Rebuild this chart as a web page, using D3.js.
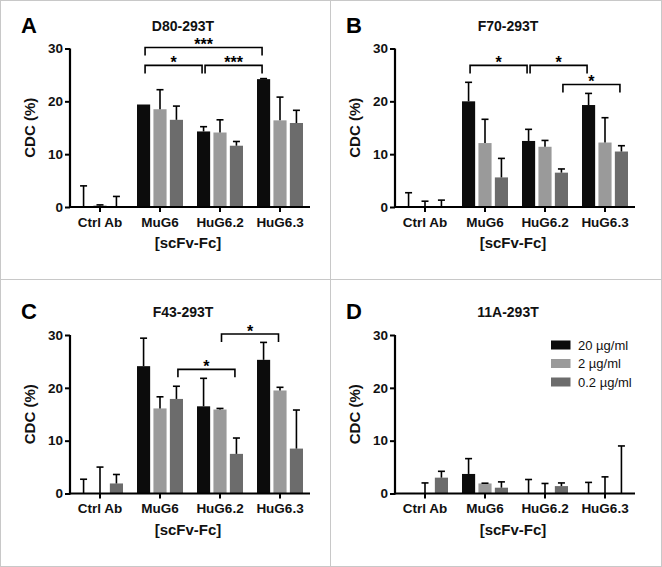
<!DOCTYPE html>
<html>
<head>
<meta charset="utf-8">
<script src="https://cdn.jsdelivr.net/npm/d3@7"></script>
<style>
  body { margin: 0; background: #fff; }
  svg { display: block; font-family: Arial, "Liberation Sans", Helvetica, sans-serif; }
</style>
</head>
<body>
<svg id="chart"></svg>
<script>
let categories = ['Ctrl Ab', 'MuG6', 'HuG6.2', 'HuG6.3']
let doses = ['20 µg/ml', '2 µg/ml', '0.2 µg/ml']
let yTicks = [0, 10, 20, 30]

// mean CDC (%) per category, one value per dose
let d80Mean = [[0, 0.3, 0], [19.4, 18.5, 16.5], [14.3, 14.1, 11.6], [24.2, 16.4, 15.9]]
let d80Sem  = [[4.0, 0.1, 2.0], [0, 3.7, 2.6], [0.9, 2.4, 0.8], [0.1, 4.4, 2.4]]

let f70Mean = [[0, 0, 0], [20.0, 12.1, 5.6], [12.5, 11.4, 6.5], [19.3, 12.2, 10.5]]
let f70Sem  = [[2.7, 1.1, 1.3], [3.6, 4.5, 3.6], [2.2, 1.2, 0.7], [2.2, 4.7, 1.1]]

let f43Mean = [[0, 0, 1.9], [24.1, 16.1, 17.9], [16.5, 15.9, 7.5], [25.3, 19.5, 8.5]]
let f43Sem  = [[2.7, 5.0, 1.7], [5.3, 2.2, 2.4], [5.3, 0.2, 3.0], [3.3, 0.6, 7.3]]

let a11Mean = [[0.1, 0, 3.0], [3.7, 1.9, 1.1], [0, 0, 1.4], [0, 0, 0]]
let a11Sem  = [[0, 2.0, 1.2], [2.9, 0.05, 1.1], [2.65, 1.9, 0.6], [2.1, 3.15, 9.0]]

// significance brackets: [category, dose index] -> [category, dose index]
let d80Sig = [
  {a: ['MuG6', 0], b: ['HuG6.2', 0], level: 26.8, label: '*'},
  {a: ['HuG6.2', 0], b: ['HuG6.3', 0], level: 26.8, label: '***'},
  {a: ['MuG6', 0], b: ['HuG6.3', 0], level: 30.2, label: '***'}
]
let f70Sig = [
  {a: ['MuG6', 0], b: ['HuG6.2', 0], level: 26.8, label: '*'},
  {a: ['HuG6.2', 0], b: ['HuG6.3', 0], level: 26.8, label: '*'},
  {a: ['HuG6.2', 2], b: ['HuG6.3', 2], level: 23.2, label: '*'}
]
let f43Sig = [
  {a: ['MuG6', 2], b: ['HuG6.2', 2], level: 23.5, label: '*'},
  {a: ['HuG6.2', 1], b: ['HuG6.3', 1], level: 30.2, label: '*'}
]
let a11Sig = []

let colors = ['#0c0c0c', '#9a9a9a', '#6c6c6c']

let width = 662
let height = 567

let panels = [
  {letter: 'A', title: 'D80-293T', mean: d80Mean, sem: d80Sem, sig: d80Sig, x0: 70, y0: 207},
  {letter: 'B', title: 'F70-293T', mean: f70Mean, sem: f70Sem, sig: f70Sig, x0: 395, y0: 207},
  {letter: 'C', title: 'F43-293T', mean: f43Mean, sem: f43Sem, sig: f43Sig, x0: 70, y0: 493.5},
  {letter: 'D', title: '11A-293T', mean: a11Mean, sem: a11Sem, sig: a11Sig, x0: 395, y0: 493.5, legend: true}
]

let svg = d3.select('#chart').attr('width', width).attr('height', height)

svg.append('rect').attr('width', width).attr('height', height).attr('fill', '#fff')

// frame and dividers
let frame = svg.append('g').attr('stroke', '#c8c8c8').attr('fill', 'none')
frame.append('rect').attr('x', 0.5).attr('y', 0.5).attr('width', width - 1).attr('height', height - 1)
frame.append('line').attr('x1', 330.5).attr('x2', 330.5).attr('y1', 0).attr('y2', height)
frame.append('line').attr('x1', 0).attr('x2', width).attr('y1', 279.5).attr('y2', 279.5)

let axisLen = 240
let plotH = 158.5

drawPanel = (p) => {
  let g = svg.append('g')

  let xScale = d3.scaleBand()
    .domain(categories)
    .range([p.x0, p.x0 + axisLen])

  let inner = d3.scaleBand()
    .domain(d3.range(doses.length))
    .range([-23, 23])
    .paddingInner(0.2)

  let yScale = d3.scaleLinear()
    .domain([0, 30])
    .range([p.y0, p.y0 - plotH])

  let barX = (cat, i) => xScale(cat) + xScale.bandwidth() / 2 + inner(i)
  let barMid = (cat, i) => barX(cat, i) + inner.bandwidth() / 2

  let rows = []
  categories.forEach((c, ci) => {
    doses.forEach((d, di) => {
      rows.push({cat: c, i: di, mean: p.mean[ci][di], sem: p.sem[ci][di]})
    })
  })

  // bars
  g.selectAll('rect.bar')
    .data(rows)
    .enter()
    .append('rect')
    .attr('class', 'bar')
    .attr('x', (d) => barX(d.cat, d.i))
    .attr('width', inner.bandwidth())
    .attr('y', (d) => yScale(d.mean))
    .attr('height', (d) => yScale(0) - yScale(d.mean))
    .attr('fill', (d) => colors[d.i])

  // error bars (upper only)
  let errs = rows.filter((d) => d.sem > 0)
  g.selectAll('line.err')
    .data(errs)
    .enter()
    .append('line')
    .attr('class', 'err')
    .attr('x1', (d) => barMid(d.cat, d.i))
    .attr('x2', (d) => barMid(d.cat, d.i))
    .attr('y1', (d) => yScale(d.mean))
    .attr('y2', (d) => yScale(d.mean + d.sem))
    .attr('stroke', '#000')
    .attr('stroke-width', 1.6)
  g.selectAll('line.cap')
    .data(errs)
    .enter()
    .append('line')
    .attr('class', 'cap')
    .attr('x1', (d) => barMid(d.cat, d.i) - 3.5)
    .attr('x2', (d) => barMid(d.cat, d.i) + 3.5)
    .attr('y1', (d) => yScale(d.mean + d.sem))
    .attr('y2', (d) => yScale(d.mean + d.sem))
    .attr('stroke', '#000')
    .attr('stroke-width', 1.6)

  // axes
  let yAxis = d3.axisLeft(yScale).tickValues(yTicks).tickSize(5).tickPadding(2)
  let xAxis = d3.axisBottom(xScale).tickSize(5).tickPadding(5).tickSizeOuter(0)

  let ya = g.append('g')
    .attr('transform', 'translate(' + p.x0 + ',0)')
    .call(yAxis)
  let xa = g.append('g')
    .attr('transform', 'translate(0,' + p.y0 + ')')
    .call(xAxis)

  ;[ya, xa].forEach((a) => {
    a.select('.domain').attr('stroke', '#000').attr('stroke-width', 2.2)
    a.selectAll('.tick line').attr('stroke', '#000').attr('stroke-width', 2)
    a.selectAll('.tick text')
      .attr('fill', '#111')
      .style('font-size', '13.5px')
      .style('font-weight', 'bold')
      .style('font-family', 'Arial, "Liberation Sans", sans-serif')
  })
  ya.select('.domain').attr('d', 'M0,' + (p.y0 + 1) + 'V' + (p.y0 - plotH))
  xa.select('.domain').attr('d', 'M' + (p.x0 - 1) + ',0H' + (p.x0 + axisLen))

  // significance brackets
  p.sig.forEach((s) => {
    let xa1 = barMid(s.a[0], s.a[1]) + 1.5
    let xb1 = barMid(s.b[0], s.b[1]) - 1.5
    let yl = yScale(s.level)
    g.append('path')
      .attr('d', 'M' + xa1 + ',' + (yl + 8) + 'V' + yl + 'H' + xb1 + 'V' + (yl + 8))
      .attr('fill', 'none')
      .attr('stroke', '#000')
      .attr('stroke-width', 1.6)
    g.append('text')
      .attr('x', (xa1 + xb1) / 2)
      .attr('y', yl + 3)
      .attr('text-anchor', 'middle')
      .style('font-size', '16px')
      .style('font-weight', 'bold')
      .text(s.label)
  })

  // labels
  g.append('text')
    .attr('x', p.x0 - 49)
    .attr('y', p.y0 - plotH - 16)
    .style('font-size', '22px')
    .style('font-weight', 'bold')
    .text(p.letter)

  g.append('text')
    .attr('x', p.x0 + 113)
    .attr('y', p.y0 - plotH - 18)
    .attr('text-anchor', 'middle')
    .style('font-size', '14px')
    .style('font-weight', 'bold')
    .attr('fill', '#111')
    .text(p.title)

  g.append('text')
    .attr('transform', 'translate(' + (p.x0 - 35) + ',' + (p.y0 - plotH / 2) + ') rotate(-90)')
    .attr('text-anchor', 'middle')
    .style('font-size', '15px')
    .style('font-weight', 'bold')
    .attr('fill', '#111')
    .text('CDC (%)')

  g.append('text')
    .attr('x', p.x0 + axisLen / 2 - 2)
    .attr('y', p.y0 + 41)
    .attr('text-anchor', 'middle')
    .style('font-size', '15px')
    .style('font-weight', 'bold')
    .attr('fill', '#111')
    .text('[scFv-Fc]')

  if (p.legend) {
    let lg = g.append('g').attr('transform', 'translate(' + (p.x0 + 156) + ',' + (p.y0 - 153) + ')')
    doses.forEach((d, i) => {
      lg.append('rect')
        .attr('x', 0).attr('y', i * 18.5)
        .attr('width', 19.5).attr('height', 9)
        .attr('fill', colors[i])
      lg.append('text')
        .attr('x', 27).attr('y', i * 18.5 + 9)
        .style('font-size', '13px')
        .attr('fill', '#111')
        .text(d)
    })
  }
}

panels.forEach((p) => drawPanel(p))
</script>
</body>
</html>
